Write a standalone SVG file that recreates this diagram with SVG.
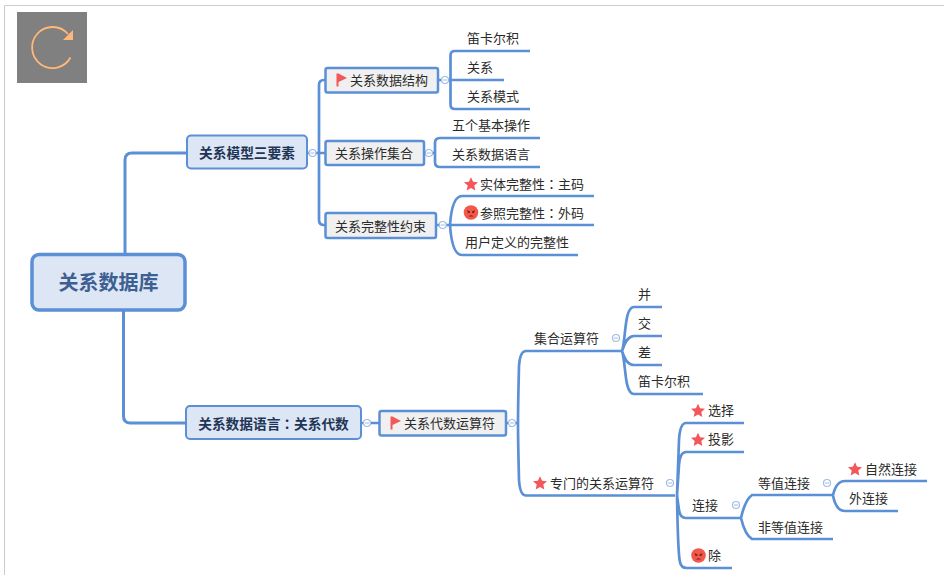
<svg xmlns="http://www.w3.org/2000/svg" width="944" height="575" viewBox="0 0 944 575">
<style>
text{font-family:"Noto Sans CJK SC","Noto Sans",sans-serif;font-size:13px;fill:#2b2b2b}
.b{font-weight:bold;font-size:13.700px;fill:#1f3556}
.r{font-weight:bold;font-size:20px;fill:#3d5f92}
.c{text-anchor:middle}
.tc{font-family:"Noto Sans CJK TC",sans-serif}
.n1{fill:#dce6f4;stroke:#5b8fd6;stroke-width:2}
.n2{fill:#f0f0f0;stroke:#5b8fd6;stroke-width:2.500}
.l{fill:none;stroke:#5b8fd6;stroke-width:2.700}
.l1{fill:none;stroke:#5b8fd6;stroke-width:3}
.tg{fill:#fff;stroke:#9dbce6;stroke-width:1.200}
.tm{stroke:#9dbce6;stroke-width:1;fill:none}
</style>
<defs>
<path id="star" d="M0-6.800 2.100-2.300 7-1.800 3.300 1.500 4.300 6.400 0 3.900-4.300 6.400-3.300 1.500-7-1.800-2.100-2.300Z" fill="#f2575a"/>
<path id="flag" d="M-5-6.500V6.500H-3V2L5.500-2-3-6.500Z" fill="#f2575a"/>
<g id="face"><circle r="7.300" fill="#f2574a"/><path d="M-4-2.500-1-1V0.500H-3ZM4-2.500 1-1V0.500H3ZM-2.500 4Q0 1.500 2.500 4Z" fill="#7a2320"/></g>
<g id="tog"><circle class="tg" r="3.500"/><path class="tm" d="M-2 0H2"/></g>
</defs>
<rect width="944" height="575" fill="#fff"/>
<path d="M4.500 575V5.500H944" fill="none" stroke="#cccccc" stroke-width="1"/>
<g id="refresh-icon">
<rect x="17" y="12" width="70" height="71" fill="#808080"/>
<path d="M70.500 57.500A20.500 20.500 0 1 1 68 34" fill="none" stroke="#ffb877" stroke-width="1.800"/>
<path d="M73 30V40H63Z" fill="#ffb877"/>
</g>
<g id="connectors">
<path class="l1" d="M125 254V160Q125 153 132 153H187"/>
<path class="l1" d="M123.500 310V416Q123.500 423 130.500 423H186"/>
<path class="l" d="M307 153H325M325 80H324Q319 80 319 85V220Q319 225 324 225H325M325 153H319"/>
<path class="l" d="M438 80H451M530 51H455Q450.500 51 450.500 55.500V104.500Q450.500 109 455 109H530M450.500 80H504"/>
<path class="l" d="M424 153H435M540 138H440Q435 138 435 143V162Q435 167 440 167H540"/>
<path class="l" d="M436 225H594M594 196H462Q452 196 450 225Q452 255 462 255H578"/>
<path class="l" d="M361 423H379.500M506 423H518"/>
<path class="l" d="M675 495.500H526Q520 495.500 519 480Q518 440 518 423Q518 406 519 366Q520 351 526 351H622"/>
<path class="l" d="M622 351C626 340 624 307 634 307H662M622 351C625 342 628 336 634 336H662M622 351C625 360 628 365 634 365H662M622 351C626 362 624 394 634 394H703"/>
<path class="l" d="M744 423H686Q680 423 679 440Q678 470 677 495.500Q678 555 680 562Q681 568 687 568H732M744 452H686Q680 452 679 465Q678 480 677 495.500M741 518H686Q680 518 679 510Q678 503 677 495.500"/>
<path class="l" d="M741 518Q745 500 752 495H833M833 539H752Q745 535 741 518"/>
<path class="l" d="M833 495.500Q836 481 845 481H927M898 511H845Q836 511 833 495.500"/>
</g>
<g id="toggles">
<use href="#tog" x="312.500" y="153"/>
<use href="#tog" x="445" y="80"/>
<use href="#tog" x="429" y="153"/>
<use href="#tog" x="442.700" y="225"/>
<use href="#tog" x="367" y="423"/>
<use href="#tog" x="512" y="423"/>
<use href="#tog" x="616" y="338"/>
<use href="#tog" x="670" y="483"/>
<use href="#tog" x="736" y="505"/>
<use href="#tog" x="827" y="483"/>
</g>
<g id="root"><rect class="n1" style="stroke-width:3.500" x="32" y="254.500" width="153" height="55.500" rx="7"/><text class="r c" x="108.500" y="290">关系数据库</text></g>
<g id="n-sanyaosu"><rect class="n1" x="187" y="135.500" width="120" height="33" rx="4"/><text class="b c" x="247" y="158">关系模型三要素</text></g>
<g id="n-daishu"><rect class="n1" x="186" y="406" width="175" height="33" rx="4"/><text class="b c" x="273.500" y="428.500">关系数据语言<tspan class="tc">：</tspan>关系代数</text></g>
<g id="n-jiegou"><rect class="n2" x="325.500" y="68" width="112.500" height="24.500" rx="2"/><use href="#flag" x="341.500" y="80"/><text x="350" y="85">关系数据结构</text></g>
<g id="n-caozuo"><rect class="n2" x="325.500" y="141" width="98.500" height="24" rx="2"/><text x="335" y="158">关系操作集合</text></g>
<g id="n-wanzheng"><rect class="n2" x="325.500" y="213" width="110.500" height="25" rx="2"/><text x="335" y="230.500">关系完整性约束</text></g>
<g id="n-yunsuanfu"><rect class="n2" x="379.500" y="411" width="126.500" height="24.500" rx="2"/><use href="#flag" x="395.500" y="423"/><text x="404" y="428">关系代数运算符</text></g>
<g id="leaf-1"><text x="467" y="43">笛卡尔积</text></g>
<g id="leaf-2"><text x="467" y="72">关系</text></g>
<g id="leaf-3"><text x="467" y="101">关系模式</text></g>
<g id="leaf-4"><text x="452" y="130">五个基本操作</text></g>
<g id="leaf-5"><text x="452" y="159">关系数据语言</text></g>
<g id="leaf-6"><use href="#star" x="471" y="184"/><text x="480" y="189">实体完整性<tspan class="tc">：</tspan>主码</text></g>
<g id="leaf-7"><use href="#face" x="471" y="212.500"/><text x="480" y="218">参照完整性<tspan class="tc">：</tspan>外码</text></g>
<g id="leaf-8"><text x="465" y="247">用户定义的完整性</text></g>
<g id="leaf-9"><text x="534" y="343">集合运算符</text></g>
<g id="leaf-10"><text x="638" y="299">并</text></g>
<g id="leaf-11"><text x="638" y="328">交</text></g>
<g id="leaf-12"><text x="638" y="357">差</text></g>
<g id="leaf-13"><text x="638" y="386">笛卡尔积</text></g>
<g id="leaf-14"><use href="#star" x="540" y="483"/><text x="550" y="488">专门的关系运算符</text></g>
<g id="leaf-15"><use href="#star" x="698" y="410.500"/><text x="708" y="415">选择</text></g>
<g id="leaf-16"><use href="#star" x="698" y="439.500"/><text x="708" y="444">投影</text></g>
<g id="leaf-17"><text x="692" y="510">连接</text></g>
<g id="leaf-18"><use href="#face" x="698.500" y="555.500"/><text x="708" y="560">除</text></g>
<g id="leaf-19"><text x="758" y="488">等值连接</text></g>
<g id="leaf-20"><text x="758" y="532">非等值连接</text></g>
<g id="leaf-21"><use href="#star" x="855" y="469"/><text x="865" y="474">自然连接</text></g>
<g id="leaf-22"><text x="849" y="503">外连接</text></g>
</svg>
